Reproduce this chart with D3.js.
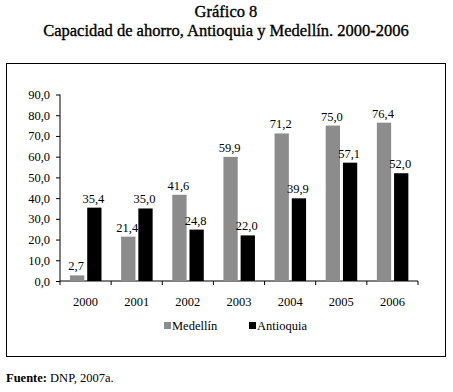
<!DOCTYPE html>
<meta charset="utf-8">
<style>
  body { margin: 0; background: #fff; }
  text { font-family: 'Liberation Serif', 'Times New Roman', serif; fill: #000; }
  text.title { font-size: 16.5px; text-anchor: middle; stroke: #000; stroke-width: 0.35px; }
  text.tick { font-size: 12.5px; }
  text.value { font-size: 12.5px; text-anchor: middle; }
  text.legend { font-size: 12.5px; }
  text.source { font-size: 12.5px; }
</style>
<script src="https://d3js.org/d3.v7.min.js"></script>
<div id="chart"></div>
<script>
  // data
  var years = ["2000", "2001", "2002", "2003", "2004", "2005", "2006"];
  var series = ["Medellín", "Antioquia"];
  var medellin = [2.7, 21.4, 41.6, 59.9, 71.2, 75.0, 76.4];
  var antioquia = [35.4, 35.0, 24.8, 22.0, 39.9, 57.1, 52.0];
  var yTicks = [0, 10, 20, 30, 40, 50, 60, 70, 80, 90];
  var colors = {"Medellín": "#8c8c8c", "Antioquia": "#000000"};

  var W = 453, H = 392;
  var svg = d3.select("#chart").append("svg")
      .attr("width", W).attr("height", H);

  // titles
  svg.append("text").attr("class", "title")
      .attr("x", 226).attr("y", 17).text("Gráfico 8");
  svg.append("text").attr("class", "title")
      .attr("x", 226).attr("y", 35.5)
      .text("Capacidad de ahorro, Antioquia y Medellín. 2000-2006");

  // frame
  svg.append("rect")
      .attr("x", 6.5).attr("y", 63.5)
      .attr("width", 439).attr("height", 293)
      .attr("fill", "none").attr("stroke", "#000").attr("stroke-width", 1);

  var x = d3.scaleBand().domain(years).range([60, 418]).padding(0);
  var xs = d3.scaleBand().domain(series).range([10, 41.5]).paddingInner(0.17);
  var y = d3.scaleLinear().domain([0, 90]).range([281, 94.5]);

  var fmt = function(d) { return d3.format(".1f")(d).replace(".", ","); };

  // y axis
  var gy = svg.append("g").attr("transform", "translate(60,0)")
      .call(d3.axisLeft(y).tickValues(yTicks).tickSize(4).tickPadding(6).tickFormat(fmt));
  gy.select(".domain").attr("d", "M0," + y(90) + "V" + y(0));
  gy.selectAll("text").attr("class", "tick");

  // x axis
  var gx = svg.append("g").attr("transform", "translate(0," + y(0) + ")");
  gx.append("line").attr("x1", 60).attr("x2", 418)
      .attr("stroke", "#000");
  gx.selectAll("line.tk")
      .data(years.concat(["end"]))
      .enter().append("line")
      .attr("x1", function(d, i) { return 60 + i * x.step(); })
      .attr("x2", function(d, i) { return 60 + i * x.step(); })
      .attr("y1", 0).attr("y2", 4).attr("stroke", "#000");
  gx.selectAll("text")
      .data(years).enter().append("text")
      .attr("class", "tick")
      .attr("x", function(d) { return x(d) + x.bandwidth() / 2; })
      .attr("y", 25)
      .attr("text-anchor", "middle")
      .text(function(d) { return d; });

  // bars
  var rows = [];
  years.forEach(function(yr, i) {
    rows.push({year: yr, s: "Medellín", v: medellin[i]});
    rows.push({year: yr, s: "Antioquia", v: antioquia[i]});
  });
  svg.append("g").selectAll("rect")
      .data(rows).enter().append("rect")
      .attr("x", function(d) { return x(d.year) + xs(d.s); })
      .attr("y", function(d) { return y(d.v); })
      .attr("width", xs.bandwidth())
      .attr("height", function(d) { return y(0) - y(d.v); })
      .attr("fill", function(d) { return colors[d.s]; });

  svg.append("g").selectAll("text")
      .data(rows).enter().append("text")
      .attr("class", "value")
      .attr("x", function(d) { return x(d.year) + xs(d.s) + xs.bandwidth() / 2 - 1; })
      .attr("y", function(d) { return y(d.v) - 5; })
      .text(function(d) { return fmt(d.v); });

  // legend
  var legX = {"Medellín": 164, "Antioquia": 249};
  var lg = svg.append("g").selectAll("g")
      .data(series).enter().append("g")
      .attr("transform", function(d) { return "translate(" + legX[d] + ",322)"; });
  lg.append("rect").attr("width", 7).attr("height", 7)
      .attr("fill", function(d) { return colors[d]; });
  lg.append("text").attr("class", "legend")
      .attr("x", 8).attr("y", 7.5).text(function(d) { return d; });

  // source
  var src = svg.append("text").attr("class", "source").attr("x", 6).attr("y", 382);
  src.append("tspan").attr("font-weight", "bold").text("Fuente:");
  src.append("tspan").text(" DNP, 2007a.");
</script>
